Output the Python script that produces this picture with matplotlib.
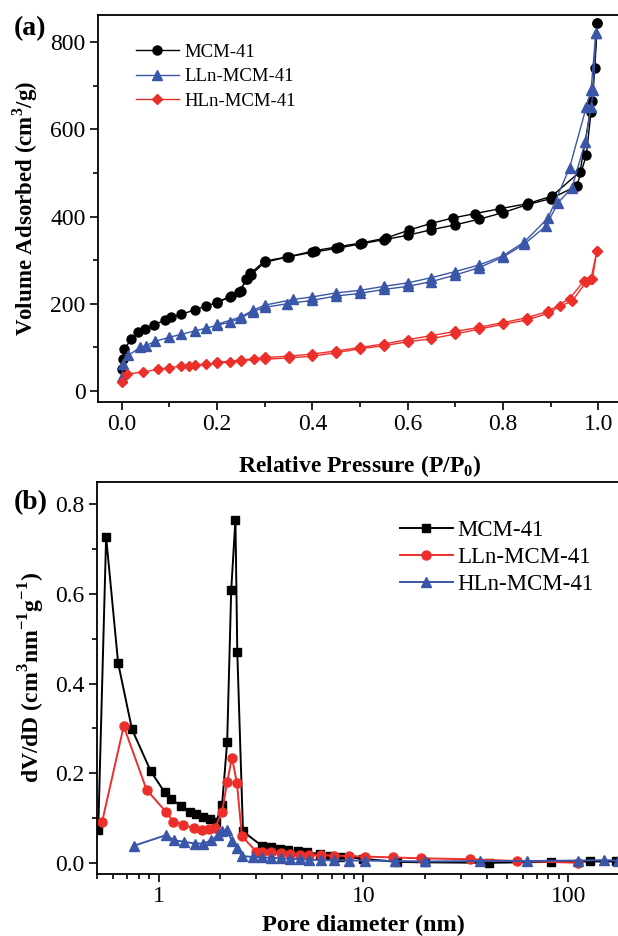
import matplotlib
matplotlib.use("Agg")
import matplotlib.pyplot as plt
from matplotlib.ticker import MultipleLocator, FixedLocator, FixedFormatter

plt.rcParams['font.family'] = ['Liberation Serif', 'DejaVu Serif']
plt.rcParams['mathtext.fontset'] = 'custom'
plt.rcParams['mathtext.rm'] = 'Liberation Serif'
plt.rcParams['mathtext.bf'] = 'Liberation Serif:bold'

# (a) N2 isotherms: adsorption (lower) and desorption (upper) branches
mcm_ads_p = [0.0, 0.002, 0.005, 0.02, 0.034, 0.048, 0.067, 0.09, 0.104, 0.125, 0.153, 0.177,
             0.199, 0.227, 0.245, 0.262, 0.272, 0.300, 0.346, 0.400, 0.450, 0.500, 0.550,
             0.600, 0.650, 0.700, 0.750, 0.800, 0.850, 0.900, 0.955, 0.975, 0.985, 0.993, 0.998]
mcm_ads_v = [50, 73, 96, 119, 135, 142, 151, 163, 169, 176, 186, 195, 203, 215, 226, 256, 267,
             295, 307, 318, 327, 337, 347, 357, 370, 381, 394, 409, 427, 441, 470, 540, 640, 740, 843]
mcm_des_p = [0.998, 0.987, 0.962, 0.903, 0.853, 0.794, 0.742, 0.696, 0.648, 0.603, 0.555,
             0.505, 0.455, 0.405, 0.35, 0.30, 0.27, 0.26, 0.25, 0.23, 0.20]
mcm_des_v = [843, 665, 503, 447, 430, 418, 407, 397, 384, 369, 351, 340, 331, 322, 308, 298,
             270, 256, 229, 217, 205]

lln_ads_p = [0.0, 0.003, 0.014, 0.038, 0.05, 0.07, 0.098, 0.125, 0.153, 0.177, 0.2, 0.227,
             0.249, 0.275, 0.3, 0.346, 0.4, 0.45, 0.5, 0.55, 0.6, 0.65, 0.7, 0.75, 0.8, 0.845,
             0.89, 0.916, 0.945, 0.973, 0.985, 0.99, 0.995]
lln_ads_v = [32, 62, 82, 100, 104, 114, 123, 130, 138, 144, 151, 158, 167, 182, 192, 200, 208,
             218, 224, 233, 240, 251, 266, 283, 307, 337, 378, 432, 466, 572, 651, 690, 820]
lln_des_p = [0.995, 0.985, 0.975, 0.94, 0.895, 0.845, 0.8, 0.75, 0.7, 0.65, 0.6, 0.55, 0.5,
             0.45, 0.4, 0.36, 0.3, 0.275, 0.25, 0.2]
lln_des_v = [820, 690, 651, 512, 397, 342, 310, 289, 274, 260, 248, 240, 231, 225, 216, 210,
             197, 185, 170, 153]

hln_ads_p = [0.0, 0.01, 0.045, 0.077, 0.1, 0.125, 0.14, 0.153, 0.177, 0.2, 0.227, 0.25, 0.278,
             0.3, 0.35, 0.4, 0.45, 0.5, 0.55, 0.6, 0.65, 0.7, 0.75, 0.8, 0.85, 0.895, 0.92,
             0.945, 0.975, 0.988, 0.997]
hln_ads_v = [21, 39, 44, 50, 54, 57, 57, 59, 62, 64, 67, 69, 73, 73, 76, 80, 88, 97, 104, 113,
             120, 131, 142, 153, 163, 178, 195, 206, 250, 258, 320]
hln_des_p = [0.997, 0.985, 0.97, 0.94, 0.895, 0.85, 0.8, 0.75, 0.7, 0.65, 0.6, 0.55, 0.5,
             0.45, 0.4, 0.35, 0.3, 0.25, 0.2]
hln_des_v = [320, 258, 252, 212, 183, 168, 157, 146, 137, 127, 118, 108, 100, 92, 85, 80, 77,
             71, 66]

# (b) pore size distributions
mcm_d = [0.507, 0.554, 0.634, 0.741, 0.914, 1.07, 1.15, 1.29, 1.43, 1.52, 1.65, 1.78, 1.91,
         2.04, 2.16, 2.26, 2.37, 2.42, 2.58, 3.19, 3.55, 3.9, 4.3, 4.8, 5.3, 6.1, 6.9, 7.7,
         10.0, 14.5, 20, 41, 82, 127, 170]
mcm_dv = [0.074, 0.727, 0.446, 0.298, 0.205, 0.157, 0.142, 0.127, 0.114, 0.110, 0.103, 0.098,
          0.092, 0.129, 0.270, 0.608, 0.766, 0.471, 0.070, 0.038, 0.035, 0.031, 0.028, 0.026,
          0.023, 0.020, 0.016, 0.014, 0.009, 0.002, 0.001, 0.0, 0.002, 0.003, 0.003]

lln_d = [0.53, 0.675, 0.873, 1.09, 1.18, 1.32, 1.48, 1.62, 1.76, 1.88, 2.04, 2.16, 2.28, 2.41,
         2.55, 3.0, 3.2, 3.55, 3.95, 4.4, 4.9, 5.4, 6.2, 7.2, 8.5, 10.2, 13.9, 19, 33, 56, 112]
lln_dv = [0.092, 0.305, 0.163, 0.113, 0.092, 0.085, 0.077, 0.074, 0.075, 0.077, 0.114, 0.180,
          0.235, 0.178, 0.059, 0.025, 0.024, 0.023, 0.021, 0.019, 0.018, 0.018, 0.017, 0.016,
          0.015, 0.014, 0.012, 0.010, 0.008, 0.004, 0.0]

hln_d = [0.757, 1.09, 1.19, 1.33, 1.50, 1.65, 1.81, 1.95, 2.04, 2.16, 2.28, 2.41, 2.55, 2.9,
         3.2, 3.55, 3.95, 4.4, 4.9, 5.4, 6.2, 7.2, 8.5, 10.2, 14.3, 20, 37, 63, 112, 150, 175]
hln_dv = [0.038, 0.062, 0.050, 0.047, 0.043, 0.043, 0.050, 0.062, 0.070, 0.073, 0.048, 0.033,
          0.015, 0.013, 0.012, 0.011, 0.010, 0.009, 0.008, 0.007, 0.006, 0.006, 0.005, 0.005,
          0.004, 0.003, 0.004, 0.004, 0.005, 0.006, 0.005]

BLUE = '#3a56a8'
RED = '#ec2f2a'

W, H = 618, 936
fig = plt.figure(figsize=(W / 100, H / 100), dpi=100)


def style_axes(ax):
    for s in ax.spines.values():
        s.set_linewidth(1.3)
    ax.tick_params(which='both', direction='out', top=False, right=False,
                   labelsize=17, width=1.2)
    ax.tick_params(which='major', length=5.5)
    ax.tick_params(which='minor', length=3.5)


# ---- panel (a)
ax1 = fig.add_axes([98 / W, 1 - 402 / H, 524 / W, 387 / H])
kw = dict(lw=1.0, ms=6.5)
ax1.plot(mcm_ads_p, mcm_ads_v, '-o', color='black', label='MCM-41', **kw)
ax1.plot(mcm_des_p, mcm_des_v, '-o', color='black', **kw)
ax1.plot(lln_ads_p, lln_ads_v, '-^', color=BLUE, label='LLn-MCM-41', **kw)
ax1.plot(lln_des_p, lln_des_v, '-^', color=BLUE, **kw)
ax1.plot(hln_ads_p, hln_ads_v, '-D', color=RED, label='HLn-MCM-41', lw=1.0, ms=5.2)
ax1.plot(hln_des_p, hln_des_v, '-D', color=RED, lw=1.0, ms=5.2)
ax1.set_xlim(-0.05, 1.05)
ax1.set_ylim(-25, 862)
ax1.xaxis.set_major_locator(MultipleLocator(0.2))
ax1.xaxis.set_minor_locator(MultipleLocator(0.1))
ax1.yaxis.set_major_locator(MultipleLocator(200))
ax1.yaxis.set_minor_locator(MultipleLocator(100))
ax1.xaxis.set_major_formatter(plt.FuncFormatter(lambda v, p: f'{v:.1f}'))
style_axes(ax1)
ax1.set_xlabel(r'Relative Pressure (P/P$_\mathbf{0}$)', fontsize=17, fontweight='bold', labelpad=13)
ax1.set_ylabel(r'Volume Adsorbed (cm$^\mathbf{3}$/g)', fontsize=16.5, fontweight='bold', labelpad=7)
ax1.legend(loc='upper left', bbox_to_anchor=(0.04, 0.97), frameon=False, fontsize=13.5,
           handlelength=2.3, handletextpad=0.3, labelspacing=0.4)
fig.text(14 / W, 1 - 29 / H, '(a)', fontsize=20, fontweight='bold', va='center')

# ---- panel (b)
ax2 = fig.add_axes([97 / W, 1 - 874 / H, 533 / W, 392 / H])
ax2.plot(mcm_d, mcm_dv, '-s', color='black', label='MCM-41', lw=1.4, ms=5.5)
ax2.plot(lln_d, lln_dv, '-o', color=RED, label='LLn-MCM-41', lw=1.4, ms=6.5)
ax2.plot(hln_d, hln_dv, '-^', color=BLUE, label='HLn-MCM-41', lw=1.4, ms=6.5)
ax2.set_xscale('log')
ax2.set_xlim(0.5, 200)
ax2.set_ylim(-0.025, 0.85)
ax2.xaxis.set_major_locator(FixedLocator([1, 10, 100]))
ax2.xaxis.set_major_formatter(FixedFormatter(['1', '10', '100']))
ax2.xaxis.set_minor_formatter(plt.NullFormatter())
ax2.yaxis.set_major_locator(MultipleLocator(0.2))
ax2.yaxis.set_minor_locator(MultipleLocator(0.1))
ax2.yaxis.set_major_formatter(plt.FuncFormatter(lambda v, p: f'{v:.1f}'))
style_axes(ax2)
ax2.set_xlabel('Pore diameter (nm)', fontsize=17.5, fontweight='bold', labelpad=5)
ax2.set_ylabel(r'dV/dD (cm$^\mathbf{3}$nm$^\mathbf{-1}$g$^\mathbf{-1}$)', fontsize=17,
               fontweight='bold', labelpad=6)
ax2.legend(loc='upper left', bbox_to_anchor=(0.53, 0.955), frameon=False, fontsize=16.5,
           handlelength=2.3, handletextpad=0.2, labelspacing=0.25)
fig.text(14 / W, 1 - 503 / H, '(b)', fontsize=20, fontweight='bold', va='center')

fig.savefig('out.png', dpi=100)
